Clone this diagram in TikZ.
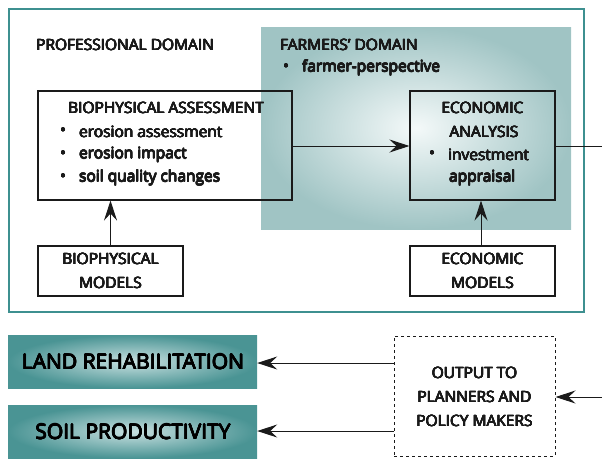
\documentclass[tikz,border=0pt]{standalone}
\usepackage{fontspec}
\setmainfont{Open Sans}
\usepackage[copies]{contour}
\usetikzlibrary{arrows.meta}

\definecolor{frameteal}{HTML}{3E9090}
\definecolor{paleteal}{HTML}{A0C4C4}
\definecolor{deepteal}{HTML}{4A9494}
\definecolor{glow}{HTML}{F4F9F9}
\definecolor{midglow}{HTML}{C8E0E0}
\definecolor{ink}{HTML}{1A1A1A}

% semibold look: the regular face thickened by a thin outline of itself
\contournumber{8}
\newcommand{\heavy}[1]{\contourlength{0.35pt}\contour{ink}{#1}}
\newcommand{\heavier}[1]{\contourlength{0.4pt}\contour{black}{#1}}

\begin{document}
\begin{tikzpicture}[x=1pt,y=-1pt,
  panel/.style={draw=ink, line width=1.1pt, inner sep=0pt},
  label/.style={text=ink, font=\fontsize{15.5}{17}\selectfont, inner sep=0pt},
  biglabel/.style={text=black, font=\fontsize{21}{23}\selectfont, inner sep=0pt},
  conn/.style={draw=ink, line width=1pt, -{Stealth[length=20pt,width=13pt,inset=7pt]}},
  wire/.style={draw=ink, line width=1pt}
]
\useasboundingbox (0,0) rectangle (602,459);

% outer frame
\draw[frameteal, line width=1.4pt] (9,9) rectangle (584,312);

% shaded farmers' domain
\shade[inner color=glow, outer color=paleteal] (261,27) rectangle (571,229);

% domain headings
\node[label, anchor=west] (prof) at (36,45) {\heavy{PROFESSIONAL DOMAIN}};
\node[label, anchor=west] (farm) at (280,45) {\heavy{FARMERS’ DOMAIN}};
\node[label, anchor=west] (farmb) at (283,68) {\heavy{•}};
\node[label, anchor=west] (farmp) at (302,68) {\heavy{farmer-perspective}};

% biophysical assessment
\node[panel, minimum width=254pt, minimum height=109pt] (ba) at (165,145.5) {};
\node[label] (batitle) at (166,108) {\heavy{BIOPHYSICAL ASSESSMENT}};
\foreach \yy/\txt [count=\i] in {132/erosion assessment,155/erosion impact,178/soil quality changes}{
  \node[label, anchor=west] (bab\i) at (60,\yy) {\heavy{•}};
  \node[label, anchor=west] (bat\i) at (79,\yy) {\heavy{\txt}};
}

% economic analysis
\node[panel, minimum width=145pt, minimum height=109pt] (ea) at (482.5,145.5) {};
\node[label] (ea1) at (482.5,108) {\heavy{ECONOMIC}};
\node[label] (ea2) at (484,132) {\heavy{ANALYSIS}};
\node[label, anchor=west] (eab) at (429,155) {\heavy{•}};
\node[label, anchor=west] (ea3) at (448,155) {\heavy{investment}};
\node[label, anchor=west] (ea4) at (449,178) {\heavy{appraisal}};

% model boxes
\node[panel, minimum width=145pt, minimum height=50pt] (bm) at (110.5,271) {};
\node[label] (bm1) at (110.5,259) {\heavy{BIOPHYSICAL}};
\node[label] (bm2) at (110.5,283) {\heavy{MODELS}};
\node[panel, minimum width=145pt, minimum height=50pt] (em) at (482.5,271) {};
\node[label] (em1) at (482.5,259) {\heavy{ECONOMIC}};
\node[label] (em2) at (482.5,283) {\heavy{MODELS}};

% outcome boxes
\shade[inner color=midglow, outer color=deepteal] (8,335) rectangle (257,388);
\node[inner sep=0pt, minimum width=249pt, minimum height=53pt] (lr) at (132.5,361.5) {};
\node[biglabel] (lrt) at (133,362) {\heavier{LAND REHABILITATION}};
\shade[inner color=midglow, outer color=deepteal] (8,405) rectangle (257,458);
\node[inner sep=0pt, minimum width=249pt, minimum height=53pt] (sp) at (132.5,431.5) {};
\node[biglabel] (spt) at (133,432) {\heavier{SOIL PRODUCTIVITY}};

% output box
\node[draw=ink, dashed, line width=1pt, inner sep=0pt, minimum width=161pt, minimum height=120pt] (out) at (474.5,396) {};
\node[label] (o1) at (474.5,373) {\heavy{OUTPUT TO}};
\node[label] (o2) at (474.5,397) {\heavy{PLANNERS AND}};
\node[label] (o3) at (474.5,421) {\heavy{POLICY MAKERS}};

% free ends at the right edge
\coordinate (eaout) at (602,146);
\coordinate (outin) at (602,397);

% connectors
\draw[conn] (ba.east |- 0,146) -- (ea.west |- 0,146);
\draw[conn] (bm.north) -- (ba.south -| bm.north);
\draw[conn] (em.north -| 481,0) -- (ea.south -| 481,0);
\draw[wire] (ea.east |- eaout) -- (eaout);
\draw[conn] (outin) -- (out.east |- outin);
\draw[conn] (out.west |- 0,363) -- (lr.east |- 0,363);
\draw[conn] (out.west |- 0,431) -- (sp.east |- 0,431);
\end{tikzpicture}
\end{document}
